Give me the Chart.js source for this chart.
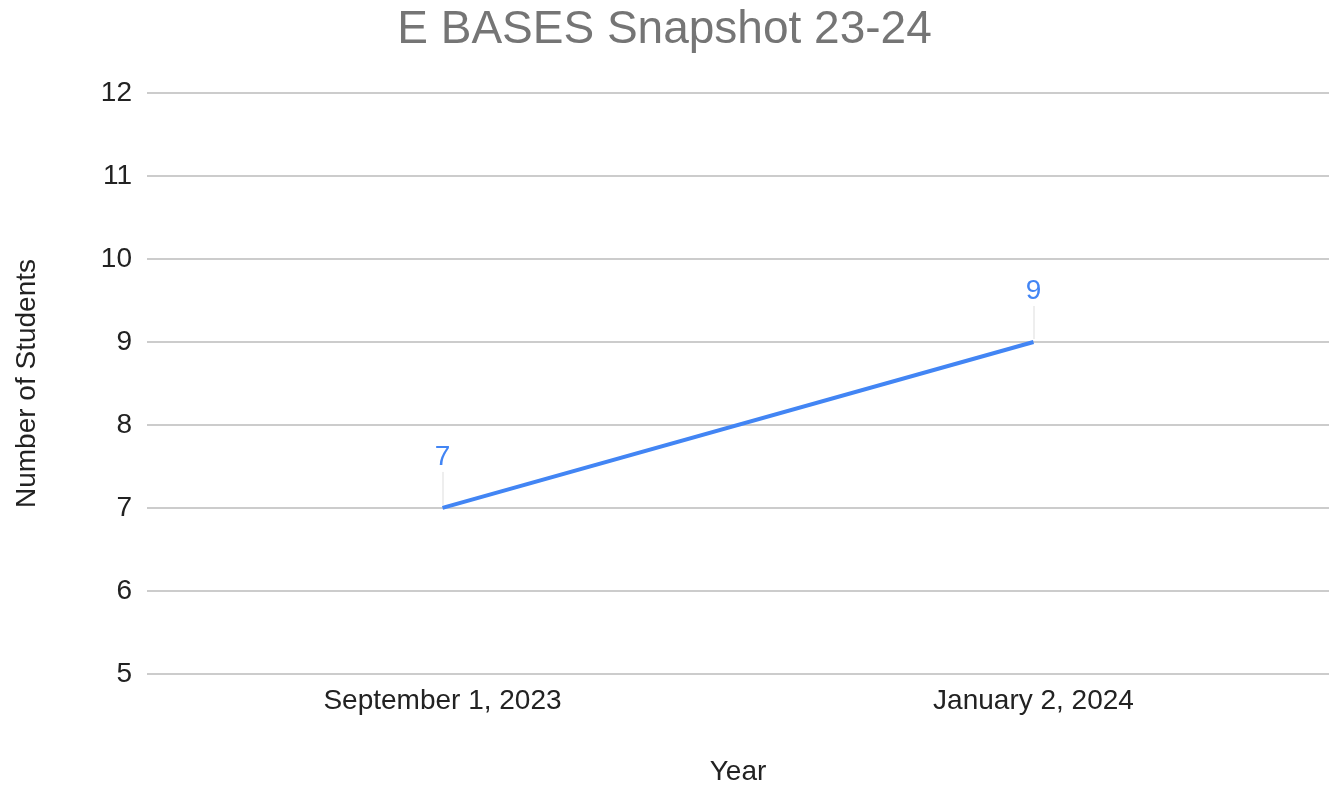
<!DOCTYPE html>
<html>
<head>
<meta charset="utf-8">
<script src="https://cdn.jsdelivr.net/npm/chart.js@4.4.1/dist/chart.umd.min.js"></script>
<style>
  html, body { margin: 0; padding: 0; background: #fff; }
  #wrap { width: 1329px; height: 785px; }
</style>
</head>
<body>
<div id="wrap"><canvas id="lineChart"></canvas></div>
<script>
const categories = ["September 1, 2023", "January 2, 2024"];
const students = [7, 9];
const yTicks = [5, 6, 7, 8, 9, 10, 11, 12];

const blue = '#4285f4';

// value labels with a thin leader line, like the Sheets chart
const pointLabels = {
    id: 'pointLabels',
    afterDatasetsDraw(chart) {
        const ctx = chart.ctx;
        const meta = chart.getDatasetMeta(0);
        ctx.save();
        meta.data.forEach((pt, i) => {
            ctx.strokeStyle = '#dddddd';
            ctx.lineWidth = 1;
            ctx.beginPath();
            ctx.moveTo(pt.x + 0.5, pt.y - 3);
            ctx.lineTo(pt.x + 0.5, pt.y - 36);
            ctx.stroke();
            ctx.fillStyle = blue;
            ctx.font = '28px "Liberation Sans", Arial, sans-serif';
            ctx.textAlign = 'center';
            ctx.textBaseline = 'middle';
            ctx.fillText(String(students[i]), pt.x, pt.y - 51);
        });
        ctx.restore();
    }
};

const ctx = document.getElementById('lineChart').getContext('2d');
new Chart(ctx, {
    type: 'line',
    data: {
        labels: categories,
        datasets: [{
            label: 'Number of Students',
            data: students,
            borderColor: blue,
            borderWidth: 4,
            pointRadius: 0,
            pointHoverRadius: 0,
            fill: false,
            tension: 0
        }]
    },
    options: {
        responsive: true,
        maintainAspectRatio: false,
        animation: false,
        layout: { padding: { top: 0, right: 0, bottom: 0, left: 0 } },
        plugins: {
            legend: { display: false },
            tooltip: { enabled: false },
            title: {
                display: true,
                text: 'E BASES Snapshot 23-24',
                color: '#757575',
                font: { family: '"Liberation Sans", Arial, sans-serif', size: 46, weight: 'normal' },
                padding: { top: 3, bottom: 35 }
            }
        },
        scales: {
            x: {
                offset: true,
                grid: { display: false },
                border: { display: false },
                ticks: {
                    color: '#222222',
                    padding: 3,
                    maxRotation: 0,
                    font: { family: '"Liberation Sans", Arial, sans-serif', size: 28 }
                },
                title: {
                    display: true,
                    text: 'Year',
                    color: '#222222',
                    padding: { top: 34, bottom: -4 },
                    font: { family: '"Liberation Sans", Arial, sans-serif', size: 28 }
                }
            },
            y: {
                min: yTicks[0],
                max: yTicks[yTicks.length - 1],
                afterBuildTicks: (axis) => { axis.ticks = yTicks.map(v => ({ value: v })); },
                afterFit: (axis) => { axis.width = 147; },
                grid: { color: '#cccccc', lineWidth: 2, drawTicks: false },
                border: { display: false },
                ticks: {
                    color: '#222222',
                    padding: 15,
                    font: { family: '"Liberation Sans", Arial, sans-serif', size: 28 }
                },
                title: {
                    display: true,
                    text: 'Number of Students',
                    color: '#222222',
                    padding: { top: 10, bottom: 0 },
                    font: { family: '"Liberation Sans", Arial, sans-serif', size: 28 }
                }
            }
        }
    },
    plugins: [pointLabels]
});
</script>
</body>
</html>
